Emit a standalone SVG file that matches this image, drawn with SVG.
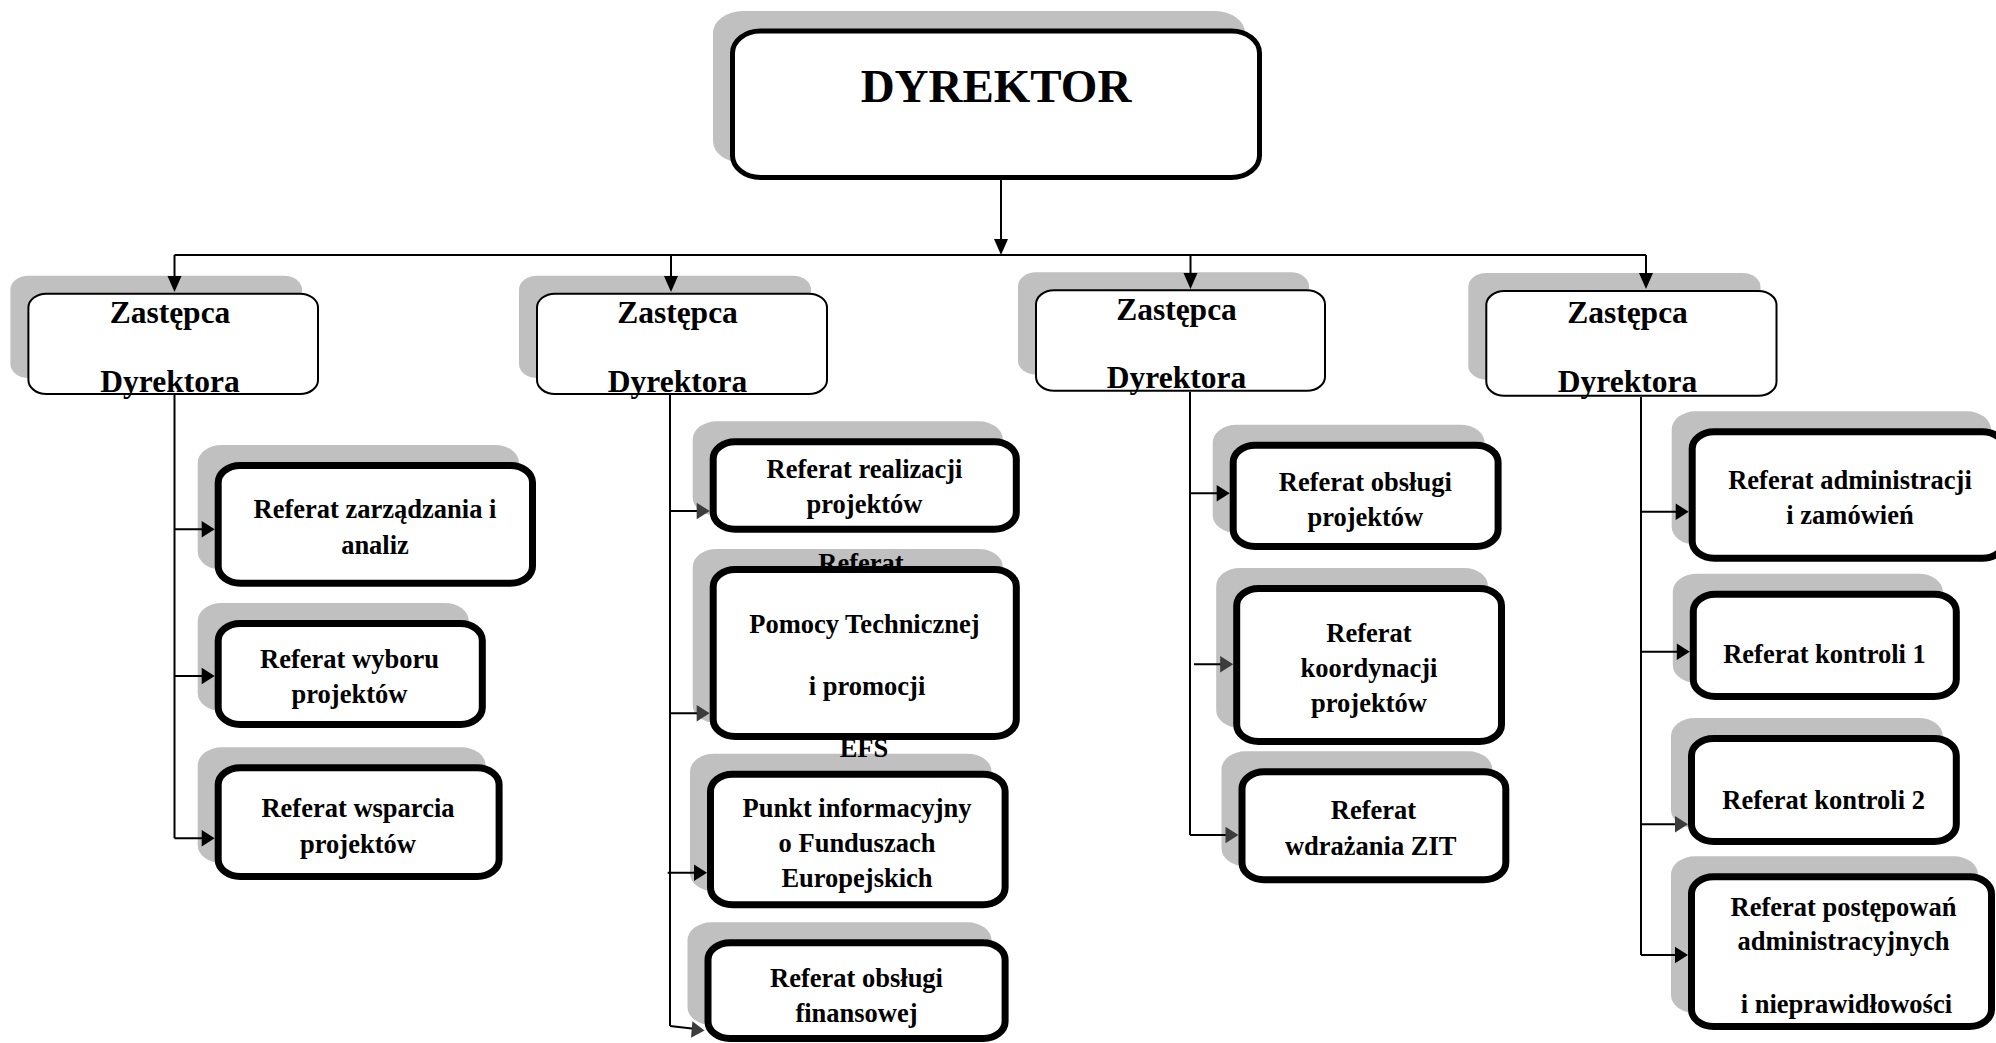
<svg xmlns="http://www.w3.org/2000/svg" width="1996" height="1043" viewBox="0 0 1996 1043">
<style>
.sh{fill:#c0c0c0}
.bx{fill:#fff;stroke:#000;stroke-width:7}
.zb{fill:#fff;stroke:#000;stroke-width:2}
.db{fill:#fff;stroke:#000;stroke-width:5}
text{font-family:"Liberation Serif","Times New Roman",serif;font-weight:bold;text-anchor:middle;fill:#000}
.t{font-size:26.5px}
.tz{font-size:31.5px}
.td{font-size:47px}
.ln{stroke:#000;stroke-width:2;fill:none}
.ah{fill:#000}
.ag{fill:#3c3c3c}
</style>
<rect width="1996" height="1043" fill="#fff"/>
<g id="dyrektor">
<rect class="sh" x="713" y="11" width="532" height="152" rx="30" ry="22"/>
<rect class="db" x="732.5" y="31" width="527" height="146.5" rx="28" ry="22"/>
<text class="td" x="996" y="101.7">DYREKTOR</text>
</g>
<g id="zastepca1">
<rect class="sh" x="10.4" y="275.7" width="291.6" height="102.3" rx="18" ry="14"/>
<rect class="zb" x="28.4" y="293.7" width="289.6" height="100.3" rx="18" ry="14"/>
<text class="tz" x="170" y="322.7">Zastępca</text>
<text class="tz" x="170" y="391.7">Dyrektora</text>
</g>
<g id="zastepca2">
<rect class="sh" x="519" y="275.7" width="292" height="102.3" rx="18" ry="14"/>
<rect class="zb" x="537" y="293.7" width="290" height="100.3" rx="18" ry="14"/>
<text class="tz" x="677.5" y="322.7">Zastępca</text>
<text class="tz" x="677.5" y="392">Dyrektora</text>
</g>
<g id="zastepca3">
<rect class="sh" x="1018" y="272.3" width="291" height="102.4" rx="18" ry="14"/>
<rect class="zb" x="1036" y="290.3" width="289" height="100.4" rx="18" ry="14"/>
<text class="tz" x="1176.5" y="320">Zastępca</text>
<text class="tz" x="1176.5" y="388.3">Dyrektora</text>
</g>
<g id="zastepca4">
<rect class="sh" x="1468.3" y="273" width="292.2" height="106.7" rx="18" ry="14"/>
<rect class="zb" x="1486.3" y="291" width="290.2" height="104.7" rx="18" ry="14"/>
<text class="tz" x="1627.5" y="322.7">Zastępca</text>
<text class="tz" x="1627.5" y="391.7">Dyrektora</text>
</g>
<g id="ref-zarzadzania">
<rect class="sh" x="197.7" y="445" width="321.3" height="124.7" rx="24" ry="18"/>
<rect class="bx" x="218.2" y="465.5" width="314.3" height="117.7" rx="22" ry="17"/>
<text class="t" x="375" y="518.3">Referat zarządzania i</text>
<text class="t" x="375" y="554">analiz</text>
</g>
<g id="ref-wyboru">
<rect class="sh" x="197.7" y="603" width="271.1" height="108" rx="24" ry="18"/>
<rect class="bx" x="218.2" y="623.5" width="264.1" height="101" rx="22" ry="17"/>
<text class="t" x="349.5" y="668.3">Referat wyboru</text>
<text class="t" x="349.5" y="703.3">projektów</text>
</g>
<g id="ref-wsparcia">
<rect class="sh" x="197.7" y="747.3" width="287.9" height="115.7" rx="24" ry="18"/>
<rect class="bx" x="218.2" y="767.8" width="280.9" height="108.7" rx="22" ry="17"/>
<text class="t" x="358" y="816.7">Referat wsparcia</text>
<text class="t" x="358" y="852.7">projektów</text>
</g>
<g id="ref-realizacji">
<rect class="sh" x="692.7" y="421.3" width="310.1" height="94.4" rx="24" ry="18"/>
<rect class="bx" x="713.2" y="441.8" width="303.1" height="87.4" rx="22" ry="17"/>
<text class="t" x="864.5" y="478.3">Referat realizacji</text>
<text class="t" x="864.5" y="513.3">projektów</text>
</g>
<g id="punkt-informacyjny">
<rect class="sh" x="690" y="753.7" width="301.6" height="137.6" rx="24" ry="18"/>
<rect class="bx" x="710.5" y="774.2" width="294.6" height="130.6" rx="22" ry="17"/>
<text class="t" x="857" y="816.7">Punkt informacyjny</text>
<text class="t" x="857" y="851.7">o Funduszach</text>
<text class="t" x="857" y="886.7">Europejskich</text>
</g>
<g id="ref-pomocy">
<rect class="sh" x="692.7" y="549" width="310.1" height="174" rx="24" ry="18"/>
<text class="t" x="861" y="571.5">Referat</text>
<text class="t" x="864" y="757.3">EFS</text>
<rect class="bx" x="713.2" y="569.5" width="303.1" height="167" rx="22" ry="17"/>
<text class="t" x="864.4" y="633.3">Pomocy Technicznej</text>
<text class="t" x="867" y="695">i promocji</text>
</g>
<g id="ref-finansowej">
<rect class="sh" x="687.5" y="922.3" width="304.1" height="102.7" rx="24" ry="18"/>
<rect class="bx" x="708" y="942.8" width="297.1" height="95.7" rx="22" ry="17"/>
<text class="t" x="856.5" y="987.3">Referat obsługi</text>
<text class="t" x="856.5" y="1021.7">finansowej</text>
</g>
<g id="ref-obslugi-projektow">
<rect class="sh" x="1212.7" y="424.7" width="271.9" height="108.3" rx="24" ry="18"/>
<rect class="bx" x="1233.2" y="445.2" width="264.9" height="101.3" rx="22" ry="17"/>
<text class="t" x="1365.3" y="490.7">Referat obsługi</text>
<text class="t" x="1365.3" y="526">projektów</text>
</g>
<g id="ref-koordynacji">
<rect class="sh" x="1216.2" y="568" width="271.8" height="160" rx="24" ry="18"/>
<rect class="bx" x="1236.7" y="588.5" width="264.8" height="153" rx="22" ry="17"/>
<text class="t" x="1369" y="641.7">Referat</text>
<text class="t" x="1369" y="676.7">koordynacji</text>
<text class="t" x="1369" y="711.7">projektów</text>
</g>
<g id="ref-zit">
<rect class="sh" x="1221.5" y="751.3" width="270.8" height="115" rx="24" ry="18"/>
<rect class="bx" x="1242" y="771.8" width="263.8" height="108" rx="22" ry="17"/>
<text class="t" x="1373.5" y="819.3">Referat</text>
<text class="t" x="1370.7" y="855">wdrażania ZIT</text>
</g>
<g id="ref-administracji">
<rect class="sh" x="1671.7" y="411.3" width="319.3" height="133.4" rx="24" ry="18"/>
<rect class="bx" x="1692.2" y="431.8" width="312.3" height="126.4" rx="22" ry="17"/>
<text class="t" x="1850" y="489.3">Referat administracji</text>
<text class="t" x="1850" y="524">i zamówień</text>
</g>
<g id="ref-kontroli1">
<rect class="sh" x="1672.8" y="573.7" width="270" height="109.3" rx="24" ry="18"/>
<rect class="bx" x="1693.3" y="594.2" width="263" height="102.3" rx="22" ry="17"/>
<text class="t" x="1824.5" y="663.3">Referat kontroli 1</text>
</g>
<g id="ref-kontroli2">
<rect class="sh" x="1671" y="718" width="271.8" height="110" rx="24" ry="18"/>
<rect class="bx" x="1691.5" y="738.5" width="264.8" height="103" rx="22" ry="17"/>
<text class="t" x="1823.6" y="809.3">Referat kontroli 2</text>
</g>
<g id="ref-postepowan">
<rect class="sh" x="1671" y="856.3" width="307" height="156.7" rx="24" ry="18"/>
<rect class="bx" x="1691.5" y="876.8" width="300" height="149.7" rx="22" ry="17"/>
<text class="t" x="1843.5" y="916">Referat postępowań</text>
<text class="t" x="1843.5" y="950">administracyjnych</text>
<text class="t" x="1846.4" y="1013.3">i nieprawidłowości</text>
</g>
<g id="connectors">
<path class="ln" d="M1001 180V240M174.5 255H1646M174.5 255V278M671 255V278M1190.5 255V275M1646 255V275"/>
<polygon class="ah" points="994,239 1008,239 1001,255"/>
<polygon class="ah" points="167.5,276 181.5,276 174.5,292"/>
<polygon class="ah" points="664,276 678,276 671,292"/>
<polygon class="ah" points="1183.5,273 1197.5,273 1190.5,289"/>
<polygon class="ah" points="1639,273 1653,273 1646,289"/>
<path class="ln" d="M174.5 395V838.3M174.5 529.3H203M174.5 676H203M174.5 838.3H203"/>
<polygon class="ah" points="201.7,521 214.7,529.3 201.7,537.6"/>
<polygon class="ah" points="201.7,667.7 214.7,676 201.7,684.3"/>
<polygon class="ah" points="201.7,830 214.7,838.3 201.7,846.6"/>
<path class="ln" d="M670 395V1026M670 511H698M670 713.3H698M667.7 872.7H695M670 1026L694 1028.7"/>
<polygon class="ag" points="696.7,502.7 709.7,511 696.7,519.3"/>
<polygon class="ag" points="696.7,705 709.7,713.3 696.7,721.6"/>
<polygon class="ah" points="694,864.4 707,872.7 694,881"/>
<polygon class="ag" points="692.4,1021.3 704.5,1030.5 691,1037.8"/>
<path class="ln" d="M1190 392V835M1190 493.3H1218M1194 664.3H1221M1190 835H1226"/>
<polygon class="ah" points="1216.7,485 1229.7,493.3 1216.7,501.6"/>
<polygon class="ag" points="1220.2,656 1233.2,664.3 1220.2,672.6"/>
<polygon class="ag" points="1225.5,826.7 1238.5,835 1225.5,843.3"/>
<path class="ln" d="M1641 397V955M1641 511.7H1677M1641 651.7H1678M1641 824.3H1676M1641 955H1676"/>
<polygon class="ah" points="1675.7,503.4 1688.7,511.7 1675.7,520"/>
<polygon class="ah" points="1676.8,643.4 1689.8,651.7 1676.8,660"/>
<polygon class="ag" points="1675,816 1688,824.3 1675,832.6"/>
<polygon class="ah" points="1675,946.7 1688,955 1675,963.3"/>
</g>
</svg>
